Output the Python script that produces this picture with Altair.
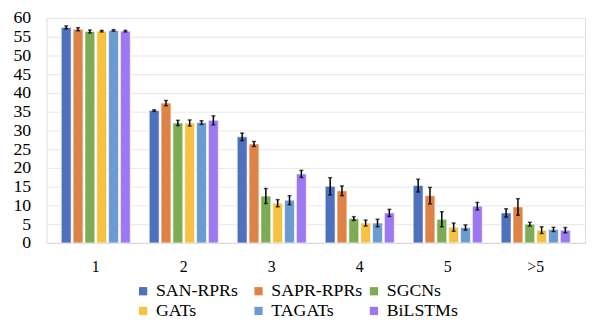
import altair as alt
import pandas as pd

categories = ["1", "2", "3", "4", "5", ">5"]
models = ["SAN-RPRs", "SAPR-RPRs", "SGCNs", "GATs", "TAGATs", "BiLSTMs"]
colors = ["#4E70BE", "#DE8345", "#7DAB56", "#F5C243", "#6A9BD1", "#9D79F0"]

san_rprs = [57.5, 35.3, 28.3, 15.1, 15.3, 8.0]
sapr_rprs = [57.0, 37.3, 26.4, 13.9, 12.6, 9.6]
sgcns = [56.4, 32.0, 12.5, 6.5, 6.3, 5.0]
gats = [56.5, 32.0, 10.6, 5.3, 4.2, 3.4]
tagats = [56.7, 32.1, 11.4, 5.3, 4.1, 3.6]
bilstms = [56.5, 32.7, 18.4, 8.0, 9.8, 3.4]

san_err = [0.4, 0.2, 1.0, 2.3, 1.7, 1.1]
sapr_err = [0.4, 0.7, 0.65, 1.3, 2.2, 2.2]
sgcn_err = [0.4, 0.7, 2.0, 0.5, 2.0, 0.5]
gat_err = [0.2, 0.8, 0.95, 0.8, 1.1, 0.9]
tagat_err = [0.2, 0.5, 1.2, 1.0, 0.7, 0.55]
bilstm_err = [0.2, 1.2, 0.95, 0.95, 1.0, 0.7]

y_ticks = [0, 5, 10, 15, 20, 25, 30, 35, 40, 45, 50, 55, 60]

means = [san_rprs, sapr_rprs, sgcns, gats, tagats, bilstms]
errs = [san_err, sapr_err, sgcn_err, gat_err, tagat_err, bilstm_err]

rows = []
for m, vals, es in zip(models, means, errs):
    for c, v, e in zip(categories, vals, es):
        rows.append({"cat": c, "model": m, "value": v, "lo": v - e, "hi": v + e})
df = pd.DataFrame(rows)

FONT = "Liberation Serif, Times New Roman, serif"

x_axis = alt.Axis(labelAngle=0, labelFont=FONT, labelFontSize=16, labelColor="#000",
                  ticks=False, domainColor="#d9d9d9", labelPadding=16, labelOverlap=False)
y_axis = alt.Axis(values=y_ticks, labelFont=FONT, labelFontSize=18, labelColor="#000",
                  ticks=False, domain=False, gridColor="#e8e8e8", labelPadding=16,
                  labelOverlap=False)
x_scale = alt.Scale(paddingInner=0.215, paddingOuter=0.168)
y_scale = alt.Scale(domain=[0, 60])


def X():
    return alt.X("cat:N", sort=categories, title=None, scale=x_scale, axis=x_axis)


def Y(field):
    return alt.Y(field, title=None, scale=y_scale, axis=y_axis)


xo = alt.XOffset("model:N", sort=models, scale=alt.Scale(paddingInner=1/6, paddingOuter=0))

bars = alt.Chart(df).mark_bar(stroke="white", strokeWidth=1, strokeOpacity=0.6).encode(
    x=X(),
    xOffset=xo,
    y=Y("value:Q"),
    color=alt.Color("model:N", sort=models,
                    scale=alt.Scale(domain=models, range=colors),
                    legend=alt.Legend(title=None, orient="none", legendX=89, legendY=268,
                                      columns=3, direction="horizontal", symbolType="square",
                                      symbolSize=70, symbolStrokeWidth=0, labelFont=FONT,
                                      labelFontSize=18, labelColor="#000", columnPadding=2,
                                      gridAlign="all",
                                      rowPadding=2, symbolOffset=0, labelOffset=4)),
)

rules = alt.Chart(df).mark_rule(color="black", strokeWidth=1.5).encode(
    x=X(), xOffset=xo, y=Y("lo:Q"), y2="hi:Q")
caps_lo = alt.Chart(df).mark_tick(color="black", size=4, thickness=1.5, orient="horizontal").encode(
    x=X(), xOffset=xo, y=Y("lo:Q"))
caps_hi = alt.Chart(df).mark_tick(color="black", size=4, thickness=1.5, orient="horizontal").encode(
    x=X(), xOffset=xo, y=Y("hi:Q"))

chart = alt.layer(bars, rules, caps_lo, caps_hi).properties(
    width=546, height=228,
    autosize=alt.AutoSizeParams(type="none"),
    padding={"left": 39, "top": 8, "right": 2, "bottom": 75},
).configure_view(stroke=None).configure(background="white", font=FONT)

chart.save("out.html", embed_options={"renderer": "svg", "actions": False})
